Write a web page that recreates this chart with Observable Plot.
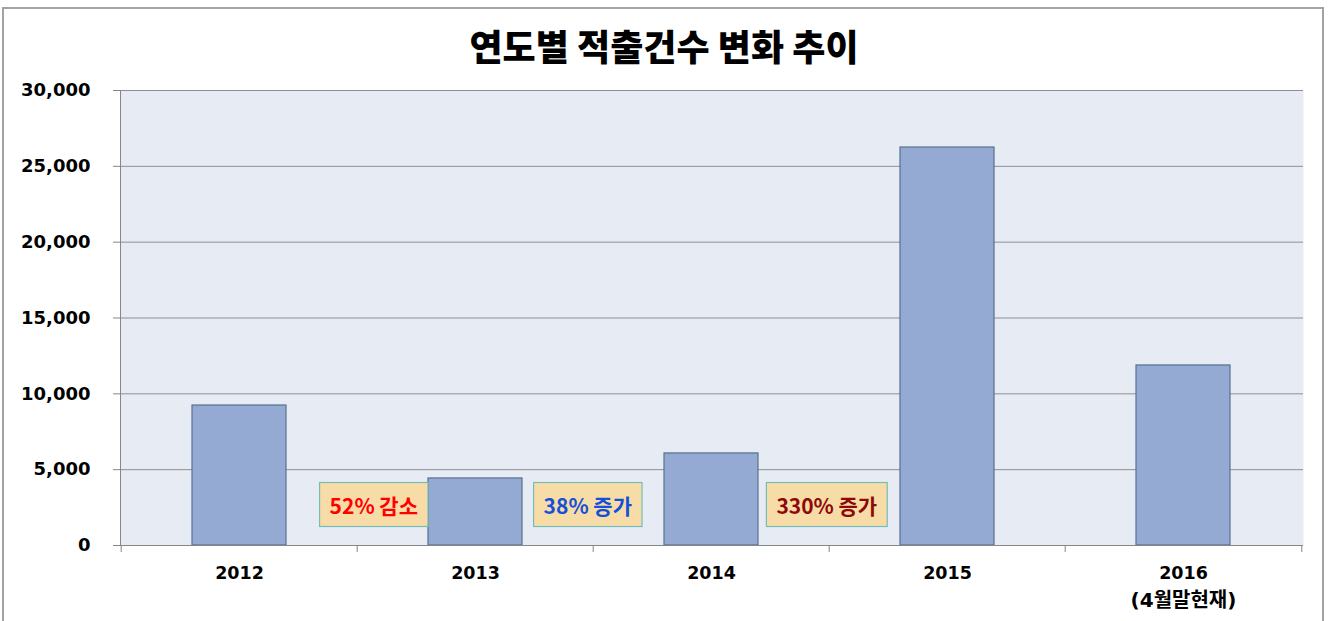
<!DOCTYPE html>
<html>
<head>
<meta charset="utf-8">
<script src="https://cdn.jsdelivr.net/npm/d3@7"></script>
<script src="https://cdn.jsdelivr.net/npm/@observablehq/plot@0.6"></script>
<style>
  html, body { margin: 0; padding: 0; background: #fff; }
  body { width: 1328px; height: 621px; overflow: hidden; position: relative; }
  #frame { position: absolute; left: 2px; top: 7px; width: 1322px; height: 700px;
           border: 2px solid #a3a3a3; box-sizing: border-box; pointer-events: none; }
  #title { height: 69px; box-sizing: border-box; padding-top: 26px; text-align: center;
           font-family: "Noto Sans CJK KR", sans-serif; font-weight: 900; font-size: 36px;
           line-height: 38px; color: #000; }
  #title span { display: inline-block; transform: scaleY(1.02); }
  #chart svg { display: block; }
</style>
</head>
<body>
<div id="title"><span>연도별 적출건수 변화 추이</span></div>
<div id="chart"></div>
<div id="frame"></div>
<script>
// ---- data ----
const years = ["2012", "2013", "2014", "2015", "2016"];
const counts = [9230, 4420, 6070, 26240, 11870];
const lastYearNote = "(4월말현재)";
const yTicks = [0, 5000, 10000, 15000, 20000, 25000, 30000];
const noteAfter = ["2012", "2013", "2014"];
const noteText = ["52% 감소", "38% 증가", "330% 증가"];

// ---- styles / layout ----
const noteColors = ["#ff0000", "#1450d8", "#8e0808"];
const noteShift = [16, -6, -3];
const W = 1328, H = 552;
const ML = 120, MR = 25, MT = 21, MB = 76;
const step = (W - ML - MR) / years.length;
const axisColor = "#868686";

const data = years.map((y, i) => ({year: y, count: counts[i]}));

const noteMarks = noteText.map((t, i) =>
  Plot.text([t], {
    x: () => noteAfter[i],
    text: d => d,
    frameAnchor: "bottom",
    dy: -32,
    dx: step / 2 + noteShift[i],
    fill: noteColors[i],
    fontSize: 21,
    fontWeight: "bold",
    fontFamily: "'Noto Sans CJK KR', sans-serif"
  })
);

const chart = Plot.plot({
  width: W,
  height: H,
  marginLeft: ML,
  marginRight: MR,
  marginTop: MT,
  marginBottom: MB,
  x: {type: "band", domain: years, paddingInner: 0.6, paddingOuter: 0.3, label: null},
  y: {domain: [0, 30000], label: null},
  style: {
    fontFamily: "'DejaVu Sans', 'Noto Sans CJK KR', sans-serif",
    fontSize: "17px",
    fontWeight: "bold",
    color: "#000",
    background: "transparent"
  },
  marks: [
    Plot.frame({fill: "#e7ecf4", stroke: null}),
    Plot.gridY(yTicks.filter(v => v > 0), {stroke: "#8e8e8e", strokeOpacity: 1}),
    Plot.barY(data, {x: "year", y: "count", fill: "#94aad3", stroke: "#55708f", strokeWidth: 1.2}),
    Plot.ruleY([0], {stroke: axisColor}),
    Plot.frame({anchor: "left", stroke: axisColor}),
    Plot.axisY(yTicks, {
      tickSize: 7, tickPadding: 23, tickFormat: d3.format(","),
      stroke: axisColor, fill: "#000", fontSize: 18, fontWeight: "bold"
    }),
    Plot.axisX({tickSize: 7, tickFormat: () => "", dx: -step / 2, stroke: axisColor}),
    Plot.axisX([years[years.length - 1]], {tickSize: 7, tickFormat: () => "", dx: step / 2, stroke: axisColor}),
    Plot.axisX({
      tickSize: 0, tickPadding: 21,
      fill: "#000", fontSize: 17.5, fontWeight: "bold"
    }),
    Plot.text([lastYearNote], {
      x: () => years[years.length - 1],
      text: d => d,
      frameAnchor: "bottom",
      dy: 61,
      fill: "#000",
      fontSize: 20,
      fontWeight: "bold"
    }),
    ...noteMarks
  ]
});

document.getElementById("chart").appendChild(chart);

// boxes behind the annotation labels
const svgNS = "http://www.w3.org/2000/svg";
chart.querySelectorAll("text").forEach(t => {
  if (!noteText.includes(t.textContent)) return;
  const b = t.getBBox();
  const r = document.createElementNS(svgNS, "rect");
  const h = 44;
  r.setAttribute("x", b.x - 10);
  r.setAttribute("y", b.y + b.height / 2 - h / 2);
  r.setAttribute("width", b.width + 20);
  r.setAttribute("height", h);
  r.setAttribute("fill", "#f8dca7");
  r.setAttribute("stroke", "#74bdb9");
  r.setAttribute("stroke-width", "1.2");
  const tr = t.getAttribute("transform");
  if (tr) r.setAttribute("transform", tr);
  t.parentNode.insertBefore(r, t);
});
</script>
</body>
</html>
